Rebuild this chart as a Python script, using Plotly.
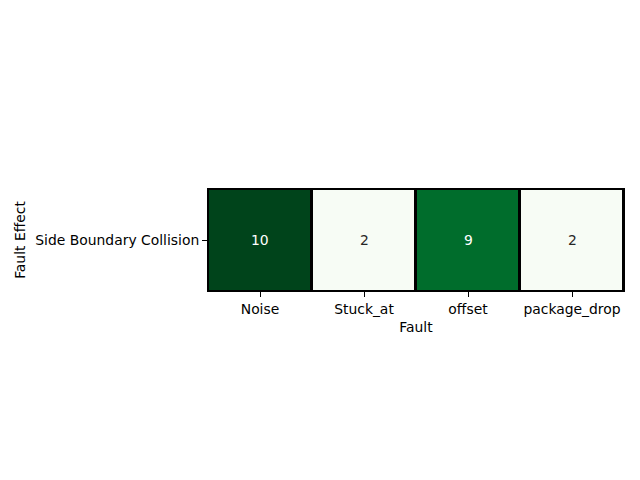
import plotly.graph_objects as go

faults = ["Noise", "Stuck_at", "offset", "package_drop"]
effects = ["Side Boundary Collision"]
counts = [[10, 2, 9, 2]]

greens = [
    [0.0, "#f7fcf5"], [0.125, "#e5f5e0"], [0.25, "#c7e9c0"], [0.375, "#a1d99b"],
    [0.5, "#74c476"], [0.625, "#41ab5d"], [0.75, "#238b45"], [0.875, "#006d2c"],
    [1.0, "#00441b"],
]

vmin, vmax = 2, 10
FONT = "DejaVu Sans"

fig = go.Figure()
fig.add_trace(go.Heatmap(
    z=counts, x=faults, y=effects,
    colorscale=greens, zmin=vmin, zmax=vmax,
    showscale=False, xgap=3, ygap=2,
    hoverinfo="skip",
))

annotations = []
for i, eff in enumerate(effects):
    for j, f in enumerate(faults):
        v = counts[i][j]
        frac = (v - vmin) / (vmax - vmin)
        color = "white" if frac > 0.5 else "#262626"
        annotations.append(dict(
            x=f, y=eff, text=str(v), showarrow=False,
            font=dict(family=FONT, size=13.9, color=color),
        ))

fig.update_layout(
    width=640, height=480,
    margin=dict(l=208, r=16, t=189, b=189),
    paper_bgcolor="white", plot_bgcolor="black",
    font=dict(family=FONT, size=13.9, color="black"),
    annotations=annotations,
    xaxis=dict(
        title=dict(text="Fault", font=dict(family=FONT, size=13.9), standoff=6),
        ticks="outside", ticklen=5, tickwidth=1, tickcolor="black",
        showline=True, linewidth=1, linecolor="black", mirror=True,
        showgrid=False, zeroline=False,
        tickfont=dict(family=FONT, size=13.9),
    ),
    yaxis=dict(
        title=dict(text="Fault Effect", font=dict(family=FONT, size=13.9), standoff=6),
        ticks="outside", ticklen=5, tickwidth=1, tickcolor="black",
        showline=True, linewidth=1, linecolor="black", mirror=True,
        showgrid=False, zeroline=False,
        tickfont=dict(family=FONT, size=13.9),
    ),
)

fig.write_html("out.html")
